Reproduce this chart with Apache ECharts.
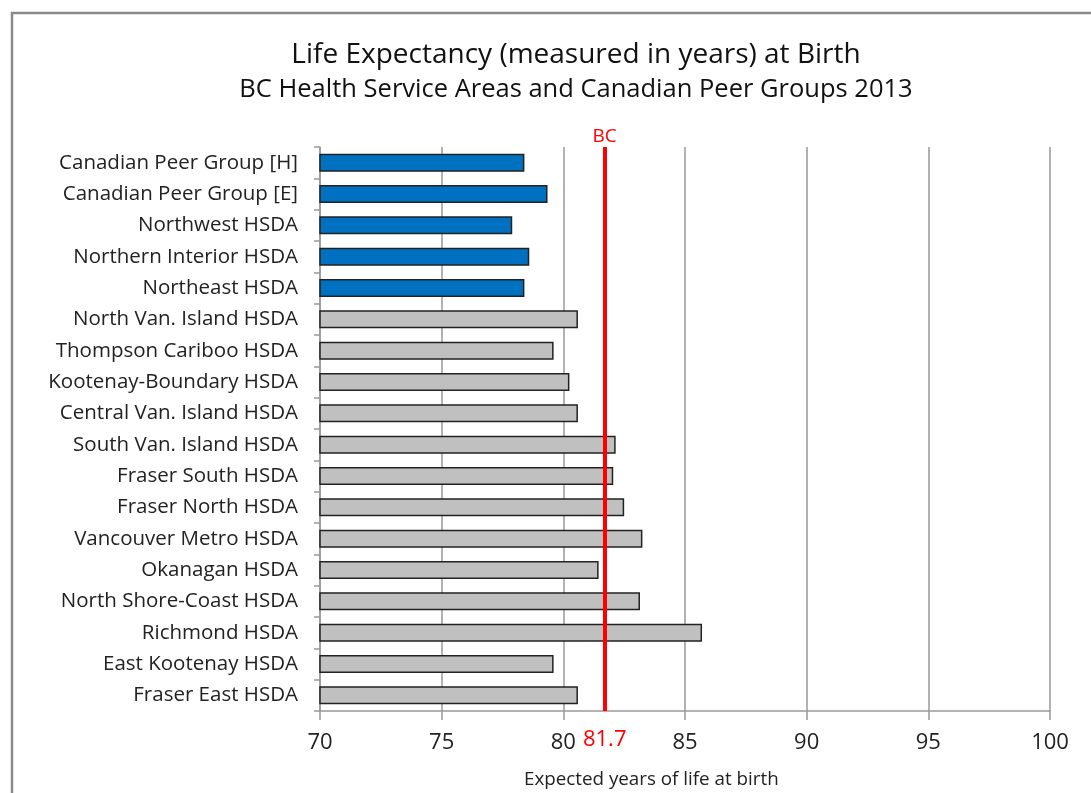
<!DOCTYPE html>
<html>
<head>
<meta charset="utf-8">
<title>Life Expectancy at Birth</title>
<script src="https://cdn.jsdelivr.net/npm/echarts@6/dist/echarts.min.js"></script>
<style>
  html, body { margin: 0; padding: 0; background: #fff; }
  #chart { width: 1091px; height: 793px; }
</style>
</head>
<body>
<div id="chart"></div>
<script>
// Health service areas and peer groups, listed top to bottom
const categories = [
  'Canadian Peer Group [H]',
  'Canadian Peer Group [E]',
  'Northwest HSDA',
  'Northern Interior HSDA',
  'Northeast HSDA',
  'North Van. Island HSDA',
  'Thompson Cariboo HSDA',
  'Kootenay-Boundary HSDA',
  'Central Van. Island HSDA',
  'South Van. Island HSDA',
  'Fraser South HSDA',
  'Fraser North HSDA',
  'Vancouver Metro HSDA',
  'Okanagan HSDA',
  'North Shore-Coast HSDA',
  'Richmond HSDA',
  'East Kootenay HSDA',
  'Fraser East HSDA'
];

// Life expectancy at birth, years
const lifeExpectancy = [
  78.4, 79.35, 77.9, 78.6, 78.4,
  80.6, 79.6, 80.25, 80.6, 82.15, 82.05, 82.5,
  83.25, 81.45, 83.15, 85.7, 79.6, 80.6
];

// Rows drawn in blue (comparison groups / Northern region); the rest gray
const highlighted = [true, true, true, true, true,
  false, false, false, false, false, false, false,
  false, false, false, false, false, false];

const bcValue = 81.7;
const xTicks = [70, 75, 80, 85, 90, 95, 100];

const FONT = '"Open Sans", "Noto Sans", sans-serif';

const chart = echarts.init(document.getElementById('chart'), null, { renderer: 'canvas' });

chart.setOption({
  backgroundColor: '#ffffff',
  animation: false,
  title: {
    text: 'Life Expectancy (measured in years) at Birth',
    subtext: 'BC Health Service Areas and Canadian Peer Groups 2013',
    left: 571,
    textAlign: 'center',
    top: 36,
    itemGap: 8,
    textStyle: { fontFamily: FONT, fontSize: 28, fontWeight: 'normal', color: '#111' },
    subtextStyle: { fontFamily: FONT, fontSize: 25.5, color: '#111' }
  },
  grid: { left: 320, right: 41, top: 147, bottom: 82 },
  xAxis: {
    type: 'value',
    min: xTicks[0],
    max: xTicks[xTicks.length - 1],
    interval: 5,
    axisLine: { show: true, lineStyle: { color: '#999', width: 1.5 } },
    axisTick: { show: true, length: 9, lineStyle: { color: '#999', width: 1.5 } },
    axisLabel: { fontFamily: FONT, fontSize: 22, color: '#222', margin: 21 },
    splitLine: { show: true, lineStyle: { color: '#999', width: 1.5 } }
  },
  yAxis: {
    type: 'category',
    data: categories,
    inverse: true,
    axisLine: { show: true, lineStyle: { color: '#999', width: 1.5 } },
    axisTick: { show: true, length: 6, lineStyle: { color: '#999', width: 1.5 } },
    axisLabel: { fontFamily: FONT, fontSize: 20.5, color: '#222', margin: 22 },
    splitLine: { show: false }
  },
  series: [{
    type: 'bar',
    data: lifeExpectancy.map((v, i) => ({
      value: v,
      itemStyle: { color: highlighted[i] ? '#0070C0' : '#C0C0C0' }
    })),
    barWidth: 18,
    itemStyle: { borderColor: '#222', borderWidth: 1.5 },
    markLine: {
      silent: true,
      symbol: 'none',
      lineStyle: { color: '#ff0000', width: 4, type: 'solid' },
      data: [
        {
          xAxis: bcValue,
          label: { show: true, position: 'start', formatter: 'BC', color: '#ff0000',
                   fontFamily: FONT, fontSize: 19, distance: 1 }
        },
        {
          xAxis: bcValue,
          label: { show: true, position: 'end', formatter: String(bcValue), color: '#ff0000',
                   fontFamily: FONT, fontSize: 22, distance: 18 }
        }
      ]
    }
  }],
  graphic: [{
    type: 'rect',
    shape: { x: 12, y: 13, width: 1100, height: 800 },
    style: { fill: 'none', stroke: '#8a8a8a', lineWidth: 2.5 },
    silent: true
  }, {
    type: 'text',
    left: 524,
    top: 770,
    style: { text: 'Expected years of life at birth', fontFamily: FONT, fontSize: 18.8, fill: '#222' },
    silent: true
  }]
});
</script>
</body>
</html>
